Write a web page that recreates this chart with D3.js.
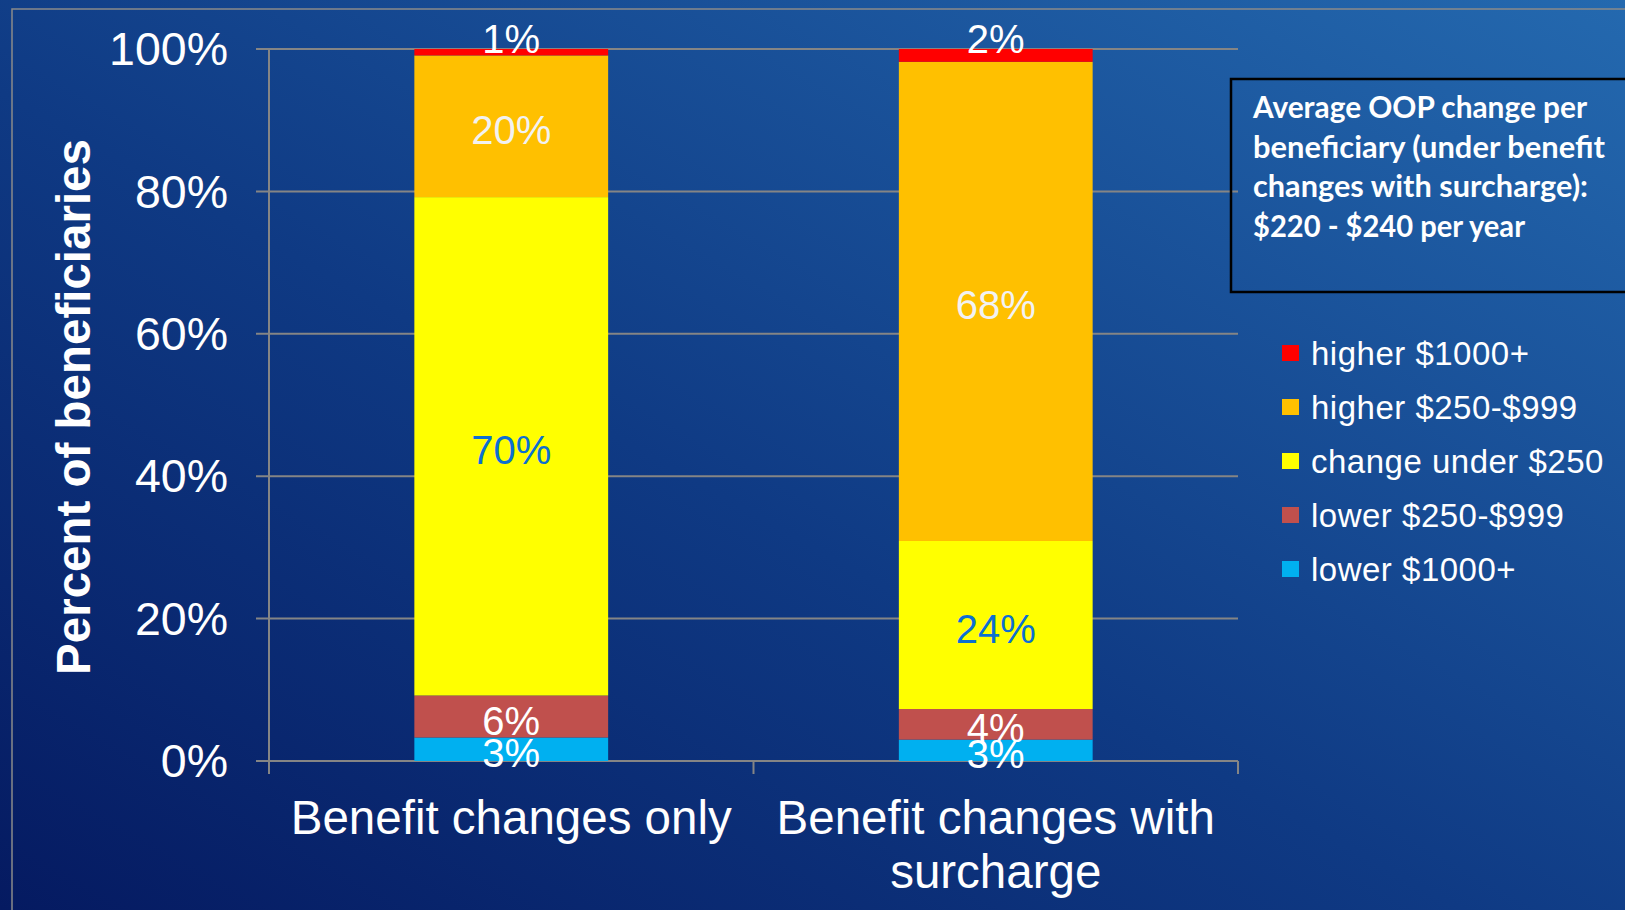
<!DOCTYPE html>
<html>
<head>
<meta charset="utf-8">
<script src="https://cdn.jsdelivr.net/npm/d3@7"></script>
<style>
  html, body { margin: 0; padding: 0; background: #0b2a74; }
  svg { display: block; }
</style>
</head>
<body>
<svg id="chart" width="1625" height="910"></svg>
<script>
// ---------- data ----------
const categories = ["Benefit changes only", "Benefit changes with surcharge"];
const categoryLines = [["Benefit changes only"], ["Benefit changes with", "surcharge"]];
const seriesNames = ["lower $1000+", "lower $250-$999", "change under $250", "higher $250-$999", "higher $1000+"];
const seriesColors = ["#00b0f0", "#c0504d", "#ffff00", "#ffc000", "#ff0000"];
const labelColors = ["#ffffff", "#ffffff", "#0c6fd2", "#f2f2f2", "#ffffff"];
// values (share of beneficiaries) per series, [bar1, bar2]
const lower1000 = [0.033, 0.030];
const lower250 = [0.059, 0.043];
const under250 = [0.700, 0.236];
const higher250 = [0.199, 0.673];
const higher1000 = [0.009, 0.018];
const valueLabels = [["3%", "3%"], ["6%", "4%"], ["70%", "24%"], ["20%", "68%"], ["1%", "2%"]];
const yTicks = [0, 0.2, 0.4, 0.6, 0.8, 1.0];
const legendOrder = [4, 3, 2, 1, 0];
const boxLines = ["Average OOP change per", "beneficiary (under benefit", "changes with surcharge):", "$220 - $240 per year"];
const boxLineWidths = [334, 352, 335, 272];

const seriesValues = [lower1000, lower250, under250, higher250, higher1000];

// ---------- setup ----------
const svg = d3.select("#chart");
const W = 1625, H = 910;

const defs = svg.append("defs");
const grad = defs.append("linearGradient").attr("id", "bg")
  .attr("x1", "0").attr("y1", "1").attr("x2", "1").attr("y2", "0");
grad.append("stop").attr("offset", "0%").attr("stop-color", "#051a61");
grad.append("stop").attr("offset", "45%").attr("stop-color", "#0f3a84");
grad.append("stop").attr("offset", "100%").attr("stop-color", "#2469af");
svg.append("rect").attr("width", W).attr("height", H).attr("fill", "url(#bg)");

// outer frame lines
svg.append("path").attr("d", `M12,${H} L12,9 L${W},9`)
  .attr("fill", "none").attr("stroke", "#8a8a8a").attr("stroke-width", 1.5);

const plot = { left: 269, right: 1238, top: 49, bottom: 761 };

const x = d3.scaleBand().domain(categories).range([plot.left, plot.right]).paddingInner(0).paddingOuter(0);
const y = d3.scaleLinear().domain([0, 1]).range([plot.bottom, plot.top]);
const barW = x.bandwidth() * 0.4;

const gridColor = "#858585";

// gridlines
svg.append("g").selectAll("line").data(yTicks).join("line")
  .attr("x1", plot.left - 13).attr("x2", plot.right)
  .attr("y1", d => y(d)).attr("y2", d => y(d))
  .attr("stroke", gridColor).attr("stroke-width", 2);

// y axis line
svg.append("line").attr("x1", plot.left).attr("x2", plot.left)
  .attr("y1", plot.top).attr("y2", plot.bottom + 13)
  .attr("stroke", gridColor).attr("stroke-width", 2);

// x tick marks at band boundaries
const boundaries = categories.map(c => x(c)).concat([x(categories[categories.length - 1]) + x.bandwidth()]);
svg.append("g").selectAll("line").data(boundaries).join("line")
  .attr("x1", d => d).attr("x2", d => d)
  .attr("y1", plot.bottom).attr("y2", plot.bottom + 13)
  .attr("stroke", gridColor).attr("stroke-width", 2);

// y tick labels
svg.append("g").selectAll("text").data(yTicks).join("text")
  .attr("x", 228).attr("y", d => y(d)).attr("dy", "0.35em")
  .attr("text-anchor", "end")
  .attr("font-family", "Liberation Sans, Arial, sans-serif")
  .attr("font-size", 46.5).attr("fill", "#ffffff")
  .text(d3.format(".0%"));

// y axis title
svg.append("text")
  .attr("transform", `translate(90, ${(140 + 674) / 2}) rotate(-90)`)
  .attr("text-anchor", "middle")
  .attr("font-family", "Liberation Sans, Arial, sans-serif")
  .attr("font-weight", "bold")
  .attr("font-size", 47.5).attr("fill", "#ffffff")
  .text("Percent of beneficiaries");

// stacked data
const rows = categories.map((c, ci) => {
  const o = { cat: c };
  seriesNames.forEach((s, si) => { o[s] = seriesValues[si][ci]; });
  return o;
});
const stacked = d3.stack().keys(seriesNames)(rows);

const barsG = svg.append("g");
stacked.forEach((layer, si) => {
  barsG.append("g").selectAll("rect").data(layer).join("rect")
    .attr("x", d => x(d.data.cat) + (x.bandwidth() - barW) / 2)
    .attr("width", barW)
    .attr("y", d => y(d[1]))
    .attr("height", d => y(d[0]) - y(d[1]))
    .attr("fill", seriesColors[si]);
});

// value labels
const labG = svg.append("g");
stacked.forEach((layer, si) => {
  labG.append("g").selectAll("text").data(layer).join("text")
    .attr("x", d => x(d.data.cat) + x.bandwidth() / 2)
    .attr("y", (d, ci) => {
      const h = y(d[0]) - y(d[1]);
      const mid = (y(d[0]) + y(d[1])) / 2;
      if (si === seriesNames.length - 1 && h < 30) return y(1) - 10;
      return mid + 4;
    })
    .attr("dy", "0.35em")
    .attr("text-anchor", "middle")
    .attr("font-family", "Liberation Sans, Arial, sans-serif")
    .attr("font-size", 40)
    .attr("fill", labelColors[si])
    .text((d, ci) => valueLabels[si][ci]);
});

// category labels
categories.forEach((c, ci) => {
  const t = svg.append("text")
    .attr("x", x(c) + x.bandwidth() / 2)
    .attr("y", 834)
    .attr("text-anchor", "middle")
    .attr("font-family", "Liberation Sans, Arial, sans-serif")
    .attr("font-size", 47.5).attr("fill", "#ffffff");
  categoryLines[ci].forEach((ln, li) => {
    t.append("tspan").attr("x", x(c) + x.bandwidth() / 2)
      .attr("dy", li === 0 ? 0 : 54).text(ln);
  });
});

// annotation box
svg.append("rect").attr("x", 1231).attr("y", 79).attr("width", 420).attr("height", 213)
  .attr("fill", "none").attr("stroke", "#000000").attr("stroke-width", 2.5);
const boxText = svg.append("text")
  .attr("font-family", "Lato, 'Open Sans', sans-serif")
  .attr("font-weight", "bold")
  .attr("font-size", 29.5).attr("fill", "#ffffff");
boxLines.forEach((ln, i) => {
  boxText.append("tspan").attr("x", 1253).attr("y", 118 + i * 39.5)
    .attr("textLength", boxLineWidths[i]).attr("lengthAdjust", "spacingAndGlyphs")
    .text(ln);
});

// legend
const legG = svg.append("g");
legendOrder.forEach((si, i) => {
  const cy = 353 + i * 54;
  legG.append("rect").attr("x", 1282).attr("y", cy - 8).attr("width", 17).attr("height", 16)
    .attr("fill", seriesColors[si]);
  legG.append("text").attr("x", 1311).attr("y", cy).attr("dy", "0.35em")
    .attr("font-family", "Liberation Sans, Arial, sans-serif")
    .attr("font-size", 33).attr("letter-spacing", 0.5).attr("fill", "#ffffff")
    .text(seriesNames[si]);
});
</script>
</body>
</html>
